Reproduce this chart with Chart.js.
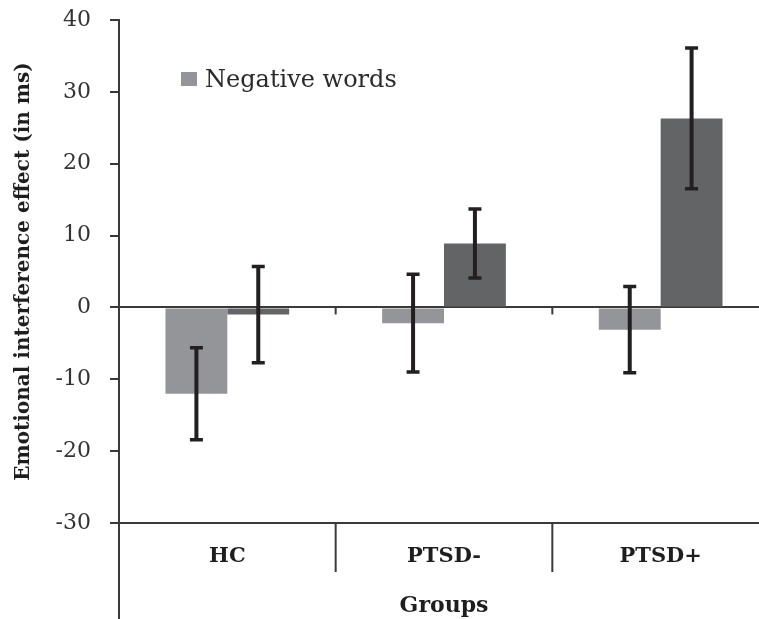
<!DOCTYPE html>
<html>
<head>
<meta charset="utf-8">
<script src="https://cdn.jsdelivr.net/npm/chart.js@4"></script>
<style>
  html, body { margin: 0; padding: 0; background: #fff; overflow: hidden; }
  #wrap { width: 769px; height: 619px; }
</style>
</head>
<body>
<div id="wrap"><canvas id="c" width="769" height="619"></canvas></div>
<script>
const categories = ['HC', 'PTSD-', 'PTSD+'];
const neutralValues = [-12.0, -2.2, -3.1];
const neutralErrors = [6.4, 6.8, 6.0];
const negativeValues = [-1.0, 8.9, 26.3];
const negativeErrors = [6.7, 4.8, 9.8];
const yTicks = [-30, -20, -10, 0, 10, 20, 30, 40];
const legendLabel = 'Negative words';
const yTitle = 'Emotional interference effect (in ms)';
const xTitle = 'Groups';

const LIGHT = '#939598';
const DARK = '#636466';
const AXIS = '#3a3a3a';
const SERIF = '"DejaVu Serif", serif';

const errorsByDataset = [neutralErrors, negativeErrors];

const decorPlugin = {
  id: 'decor',
  afterDatasetsDraw(chart) {
    const ctx = chart.ctx;
    const y = chart.scales.y, x = chart.scales.x;
    const area = chart.chartArea;
    ctx.save();
    // error bars
    chart.data.datasets.forEach((ds, di) => {
      const meta = chart.getDatasetMeta(di);
      meta.data.forEach((bar, i) => {
        const v = ds.data[i], e = errorsByDataset[di][i];
        const yt = y.getPixelForValue(v + e), yb = y.getPixelForValue(v - e);
        ctx.strokeStyle = '#231f20';
        ctx.lineWidth = 4;
        ctx.beginPath();
        ctx.moveTo(bar.x, yt); ctx.lineTo(bar.x, yb);
        ctx.stroke();
        ctx.lineWidth = 3.5;
        ctx.beginPath();
        ctx.moveTo(bar.x - 6.5, yt); ctx.lineTo(bar.x + 6.5, yt);
        ctx.moveTo(bar.x - 6.5, yb); ctx.lineTo(bar.x + 6.5, yb);
        ctx.stroke();
      });
    });
    // category boundaries
    const y0 = y.getPixelForValue(0);
    ctx.strokeStyle = AXIS;
    ctx.lineWidth = 2;
    for (let i = 0; i < categories.length - 1; i++) {
      const bx = (x.getPixelForValue(i) + x.getPixelForValue(i + 1)) / 2;
      ctx.beginPath();
      ctx.moveTo(bx, y0); ctx.lineTo(bx, y0 + 7);
      ctx.stroke();
      ctx.beginPath();
      ctx.moveTo(bx, area.bottom); ctx.lineTo(bx, area.bottom + 49);
      ctx.stroke();
    }
    // y axis extension below the plot
    ctx.beginPath();
    ctx.moveTo(area.left, area.bottom); ctx.lineTo(area.left, chart.height);
    ctx.stroke();
    // legend
    ctx.fillStyle = LIGHT;
    ctx.fillRect(181, 72, 16, 14);
    ctx.fillStyle = '#2a2a2a';
    ctx.font = '24px ' + SERIF;
    ctx.textBaseline = 'alphabetic';
    ctx.textAlign = 'left';
    ctx.fillText(legendLabel, 205, 87);
    ctx.restore();
  }
};

new Chart(document.getElementById('c'), {
  type: 'bar',
  data: {
    labels: categories,
    datasets: [
      { label: 'Neutral words', data: neutralValues, backgroundColor: LIGHT },
      { label: legendLabel, data: negativeValues, backgroundColor: DARK }
    ]
  },
  options: {
    responsive: false,
    animation: false,
    devicePixelRatio: 1,
    layout: { padding: { top: 20, left: 0, right: 0, bottom: 0 } },
    plugins: { legend: { display: false }, tooltip: { enabled: false } },
    datasets: { bar: { categoryPercentage: 0.571, barPercentage: 1.0 } },
    scales: {
      x: {
        grid: { display: false, drawTicks: false },
        border: { display: true, color: AXIS, width: 2 },
        ticks: { color: '#1e1e1e', font: { family: SERIF, size: 21, weight: 'bold' }, padding: 21 },
        title: { display: true, text: xTitle, color: '#1e1e1e', font: { family: SERIF, size: 22, weight: 'bold' }, padding: { top: 0, bottom: 0 } },
        afterFit(s) { s.height = 96; s.paddingLeft = 0; s.paddingRight = 0; }
      },
      y: {
        min: -30, max: 40,
        afterBuildTicks(s) { s.ticks = yTicks.map(v => ({ value: v })); },
        grid: {
          color: c => (c.tick && c.tick.value === 0) ? AXIS : 'rgba(0,0,0,0)',
          lineWidth: 2,
          tickColor: AXIS,
          tickLength: 9,
          drawOnChartArea: true
        },
        border: { display: true, color: AXIS, width: 2 },
        ticks: { color: '#333', font: { family: SERIF, size: 22 }, padding: 19 },
        title: { display: true, text: yTitle, color: '#1e1e1e', font: { family: SERIF, size: 20, weight: 'bold' }, padding: { top: 12, bottom: 0 } },
        afterFit(s) { s.width = 119; s.paddingTop = 0; s.paddingBottom = 0; }
      }
    }
  },
  plugins: [decorPlugin]
});
</script>
</body>
</html>
